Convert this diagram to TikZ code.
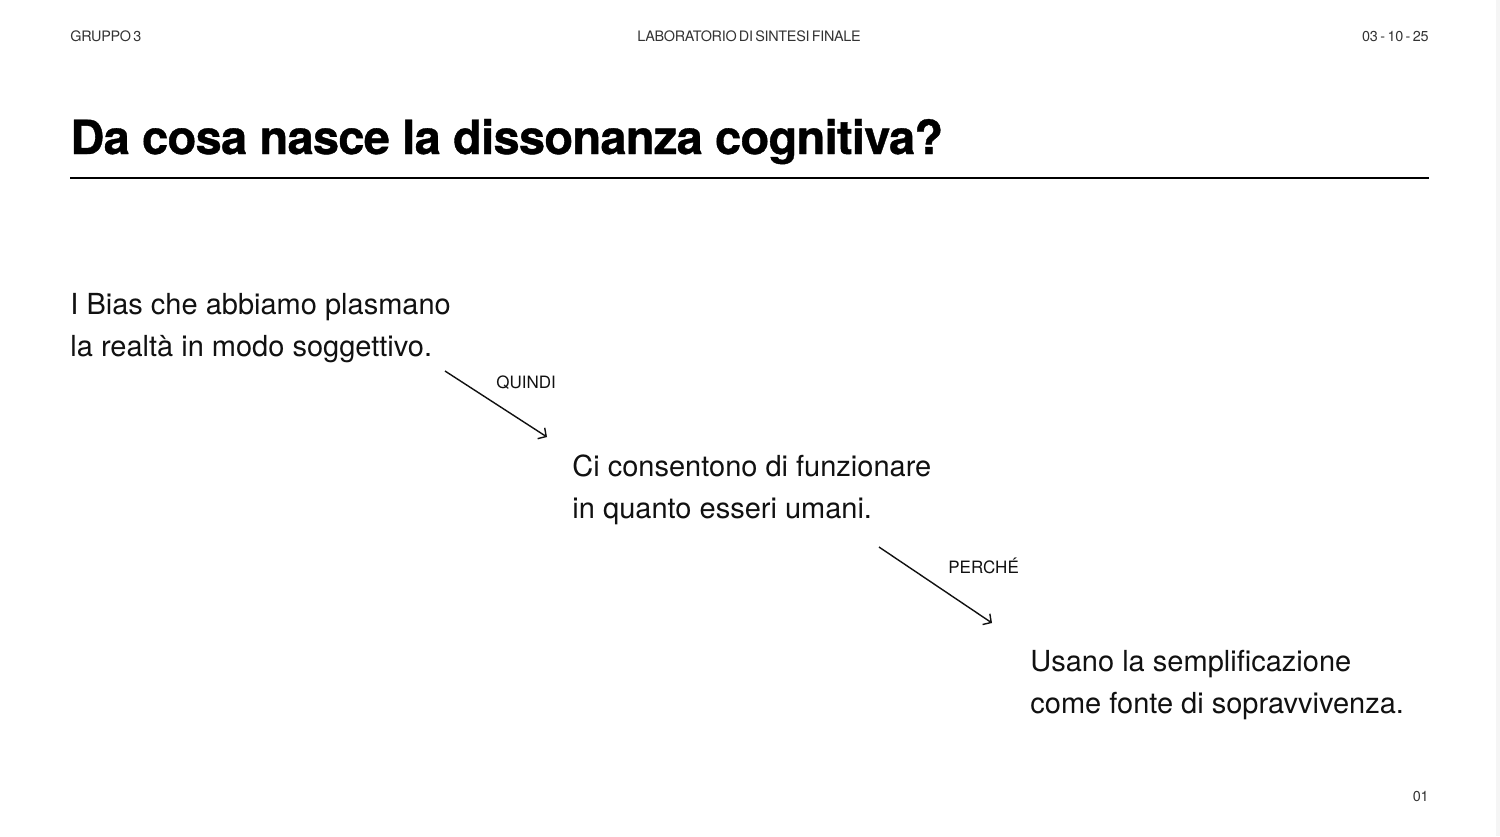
\documentclass[tikz,border=0pt]{standalone}
\usepackage{fontspec}
\setmainfont{TeX Gyre Heros}
\newfontfamily\headfont[LetterSpace=-2,WordSpace=0.6]{TeX Gyre Heros}
\newfontfamily\titlefont[LetterSpace=-1.5,FakeBold=0.8]{TeX Gyre Heros}
\usetikzlibrary{arrows.meta,positioning}
\definecolor{slideink}{HTML}{111111}
\definecolor{headgray}{HTML}{333333}

\begin{document}
\begin{tikzpicture}[x=0.5pt,y=-0.5pt,>={Straight Barb[length=3pt,width=6.5pt]},
  head/.style={anchor=base,inner sep=0pt,text=headgray,font=\headfont\fontsize{7.2}{8}\selectfont},
  claim/.style={anchor=base west,inner sep=0pt,align=left,text=slideink,font=\fontsize{14.5}{21}\selectfont},
  link/.style={anchor=base west,inner sep=0pt,text=slideink,font=\fontsize{8.5}{10}\selectfont}]
  \useasboundingbox[fill=white] (0,0) rectangle (1500,836);
  \fill[black!4] (1496,0) rectangle (1500,836);
  % header
  \node[head,anchor=base west] (group) at (70,41) {GRUPPO 3};
  \node[head] (course) at (749,41) {LABORATORIO DI SINTESI FINALE};
  \node[head,anchor=base east] (date) at (1429,41) {03\,-\,10\,-\,25};
  \node[anchor=base west,inner sep=0pt,text=black,font=\titlefont\bfseries\fontsize{23.5}{28}\selectfont] (title) at (70,154) {Da cosa nasce la dissonanza cognitiva?};
  \draw[line width=1pt] (70,178) -- (1429,178);
  % chain of claims (base = last line)
  \node[claim] (bias) at (70,356) {I Bias che abbiamo plasmano\\la realtà in modo soggettivo.};
  \node[claim] (func) at (572,518) {Ci consentono di funzionare\\in quanto esseri umani.};
  \node[claim] (simp) at (1030,713) {Usano la semplificazione\\come fonte di sopravvivenza.};
  \coordinate (q0) at (445,371);
  \coordinate (q1) at (547,437);
  \coordinate (p0) at (879,547);
  \coordinate (p1) at (992,623);
  \draw[->,line width=0.7pt,slideink] (q0) -- (q1);
  \draw[->,line width=0.7pt,slideink] (p0) -- (p1);
  \node[link] (quindi) at (496,388) {QUINDI};
  \node[link] (perche) at (948,573) {PERCHÉ};
  \node[head,anchor=base east] (page) at (1429,801) {01};
\end{tikzpicture}
\end{document}
